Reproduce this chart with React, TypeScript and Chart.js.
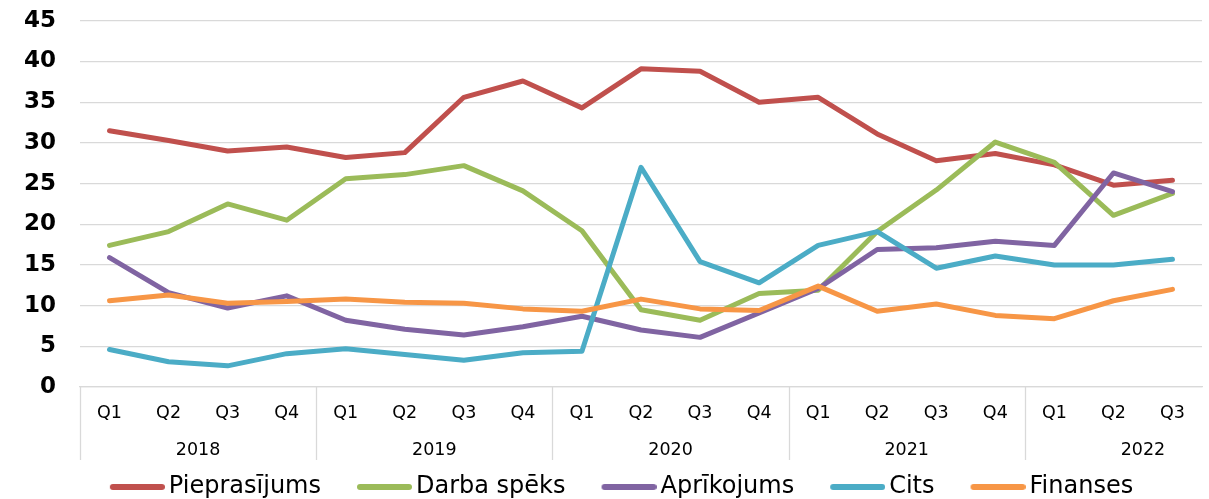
import React, { useEffect, useRef } from "react";
import { Chart, registerables } from "chart.js";

Chart.register(...registerables);

const quarters = ["Q1","Q2","Q3","Q4","Q1","Q2","Q3","Q4","Q1","Q2","Q3","Q4","Q1","Q2","Q3","Q4","Q1","Q2","Q3"];
const years = ["2018", "2019", "2020", "2021", "2022"];
const yearCenters = [1.5, 5.5, 9.5, 13.5, 17.5];
const yearBoundaries = [0, 4, 8, 12, 16];
const yTicks = [0, 5, 10, 15, 20, 25, 30, 35, 40, 45];

const seriesNames = ["Pieprasījums", "Darba spēks", "Aprīkojums", "Cits", "Finanses"];
const pieprasijums = [31.5, 30.3, 29.0, 29.5, 28.2, 28.8, 35.6, 37.6, 34.3, 39.1, 38.8, 35.0, 35.6, 31.1, 27.8, 28.7, 27.3, 24.8, 25.4];
const darbaSpeks = [17.4, 19.1, 22.5, 20.5, 25.6, 26.1, 27.2, 24.1, 19.2, 9.5, 8.2, 11.5, 11.9, 19.1, 24.2, 30.1, 27.6, 21.1, 23.8];
const aprikojums = [15.9, 11.6, 9.7, 11.2, 8.2, 7.1, 6.4, 7.4, 8.7, 7.0, 6.1, 9.1, 12.1, 16.9, 17.1, 17.9, 17.4, 26.3, 24.0];
const cits = [4.6, 3.1, 2.6, 4.1, 4.7, 4.0, 3.3, 4.2, 4.4, 27.0, 15.4, 12.8, 17.4, 19.1, 14.6, 16.1, 15.0, 15.0, 15.7];
const finanses = [10.6, 11.3, 10.3, 10.5, 10.8, 10.4, 10.3, 9.6, 9.3, 10.8, 9.6, 9.4, 12.4, 9.3, 10.2, 8.8, 8.4, 10.6, 12.0];

const seriesValues = [pieprasijums, darbaSpeks, aprikojums, cits, finanses];
const seriesColors = ["#c0504d", "#9bbb59", "#8064a2", "#4bacc6", "#f79646"];

const FONT = "'DejaVu Sans', Verdana, sans-serif";

function legendLine(color: string): HTMLCanvasElement {
  const c = document.createElement("canvas");
  c.width = 64;
  c.height = 8;
  const g = c.getContext("2d")!;
  g.strokeStyle = color;
  g.lineWidth = 6;
  g.lineCap = "round";
  g.beginPath();
  g.moveTo(12, 4);
  g.lineTo(61, 4);
  g.stroke();
  return c;
}

const layoutPlugin = {
  id: "legendPlacement",
  afterLayout(chart: any) {
    const lg = chart.legend;
    if (!lg) return;
    const h = lg.height;
    lg.top = chart.chartArea.bottom + 53;
    lg.bottom = lg.top + h;
    lg.left += 8;
    lg.right += 8;
  },
};

const separatorPlugin = {
  id: "yearSeparators",
  afterDraw(chart: any) {
    const xs = chart.scales.x;
    const ctx = chart.ctx;
    ctx.save();
    ctx.strokeStyle = "#d9d9d9";
    ctx.lineWidth = 1.3;
    yearBoundaries.forEach((b) => {
      const x = Math.round(xs.getPixelForValue(b - 0.5)) + 0.5;
      ctx.beginPath();
      ctx.moveTo(x, chart.chartArea.bottom);
      ctx.lineTo(x, chart.chartArea.bottom + 73);
      ctx.stroke();
    });
    ctx.restore();
  },
};

export default function App() {
  const ref = useRef<HTMLCanvasElement>(null);
  useEffect(() => {
    const chart = new Chart(ref.current!, {
      type: "line",
      data: {
        labels: quarters,
        datasets: seriesNames.map((name, i) => ({
          label: name,
          data: seriesValues[i],
          borderColor: seriesColors[i],
          backgroundColor: seriesColors[i],
          borderWidth: 5,
          borderCapStyle: "round",
          borderJoinStyle: "round",
          pointRadius: 0,
          pointHoverRadius: 0,
          pointStyle: legendLine(seriesColors[i]),
          tension: 0,
          fill: false,
          order: seriesNames.length - 1 - i,
        })),
      },
      options: {
        animation: false,
        responsive: true,
        maintainAspectRatio: false,
        layout: { padding: { left: 24, right: 7, top: 0, bottom: 0 } },
        plugins: {
          tooltip: { enabled: false },
          legend: {
            position: "bottom",
            labels: {
              usePointStyle: true,
              pointStyleWidth: 48,
              padding: 35,
              color: "#000",
              font: { family: FONT, size: 24 },
              sort: (a: any, b: any) => a.datasetIndex - b.datasetIndex,
            },
          },
        },
        scales: {
          y: {
            min: 0,
            max: 45,
            afterBuildTicks: (axis: any) => {
              axis.ticks = yTicks.map((v) => ({ value: v }));
            },
            afterFit: (scale: any) => {
              scale.width = 56;
            },
            border: { display: false },
            grid: { color: "#d9d9d9", lineWidth: 1.3, drawTicks: false },
            ticks: {
              padding: 24,
              color: "#000",
              font: { family: FONT, size: 23, weight: "bold" },
            },
          },
          x: {
            type: "category",
            offset: true,
            afterFit: (scale: any) => {
              scale.height = 44;
            },
            border: { display: true, color: "#d9d9d9", width: 1.3 },
            grid: { display: false, drawTicks: false },
            ticks: {
              padding: 16,
              color: "#000",
              maxRotation: 0,
              autoSkip: false,
              font: { family: FONT, size: 17.5 },
            },
          },
          x2: {
            type: "linear",
            position: "bottom",
            min: -0.5,
            max: 18.5,
            afterBuildTicks: (axis: any) => {
              axis.ticks = yearCenters.map((v) => ({ value: v }));
            },
            afterFit: (scale: any) => {
              scale.height = 32;
            },
            border: { display: false },
            grid: { display: false, drawTicks: false },
            ticks: {
              padding: 9,
              color: "#000",
              maxRotation: 0,
              autoSkip: false,
              font: { family: FONT, size: 17.5 },
              callback: (_v: any, i: number) => years[i],
            },
          },
        },
      },
      plugins: [layoutPlugin, separatorPlugin],
    } as any);
    return () => chart.destroy();
  }, []);
  return (
    <div style={{ position: "absolute", left: 0, top: -17, width: 1209, height: 549 }}>
      <canvas ref={ref} />
    </div>
  );
}
